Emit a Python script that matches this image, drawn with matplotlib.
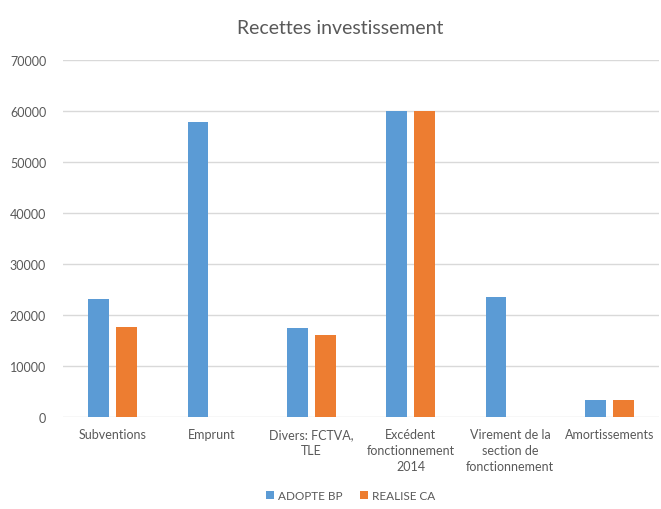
import matplotlib
matplotlib.use("Agg")
import matplotlib.pyplot as plt
import numpy as np

categories = ["Subventions", "Emprunt", "Divers: FCTVA,\nTLE",
              "Excédent\nfonctionnement\n2014",
              "Virement de la\nsection de\nfonctionnement", "Amortissements"]
adopte_bp = [23200, 57900, 17400, 60000, 23600, 3300]
realise_ca = [17750, 0, 16200, 60000, 0, 3300]
yticks = [0, 10000, 20000, 30000, 40000, 50000, 60000, 70000]

plt.rcParams["font.family"] = ["Lato", "DejaVu Sans"]
grey = "#595959"

fig = plt.figure(figsize=(6.61, 5.10), dpi=100)
ax = fig.add_axes([0.095, 0.18, 0.902, 0.70])

x = np.arange(len(categories))
w = 0.21
ax.bar(x - 0.14, adopte_bp, w, color="#5B9BD5", label="ADOPTE BP", zorder=3)
ax.bar(x + 0.14, realise_ca, w, color="#ED7D31", label="REALISE CA", zorder=3)

ax.set_xlim(-0.5, len(categories) - 0.5)
ax.set_ylim(0, 70000)
ax.set_yticks(yticks)
ax.set_yticklabels([str(v) for v in yticks])
ax.set_xticks(x)
ax.set_xticklabels(categories, linespacing=1.4)
ax.tick_params(axis="both", length=0, labelsize=9, colors=grey)
ax.tick_params(axis="y", pad=12)
ax.tick_params(axis="x", pad=8)
ax.grid(axis="y", color="#D9D9D9", linewidth=1, zorder=0)
for s in ax.spines.values():
    s.set_visible(False)

fig.suptitle("Recettes investissement", x=0.515, y=0.96, fontsize=14, color=grey)
fig.legend(loc="lower center", bbox_to_anchor=(0.53, -0.006), ncol=2, frameon=False,
           fontsize=8.5, labelcolor=grey, handlelength=0.7, handleheight=0.7,
           handletextpad=0.3, columnspacing=1.5)

fig.savefig("out.png", dpi=100)
